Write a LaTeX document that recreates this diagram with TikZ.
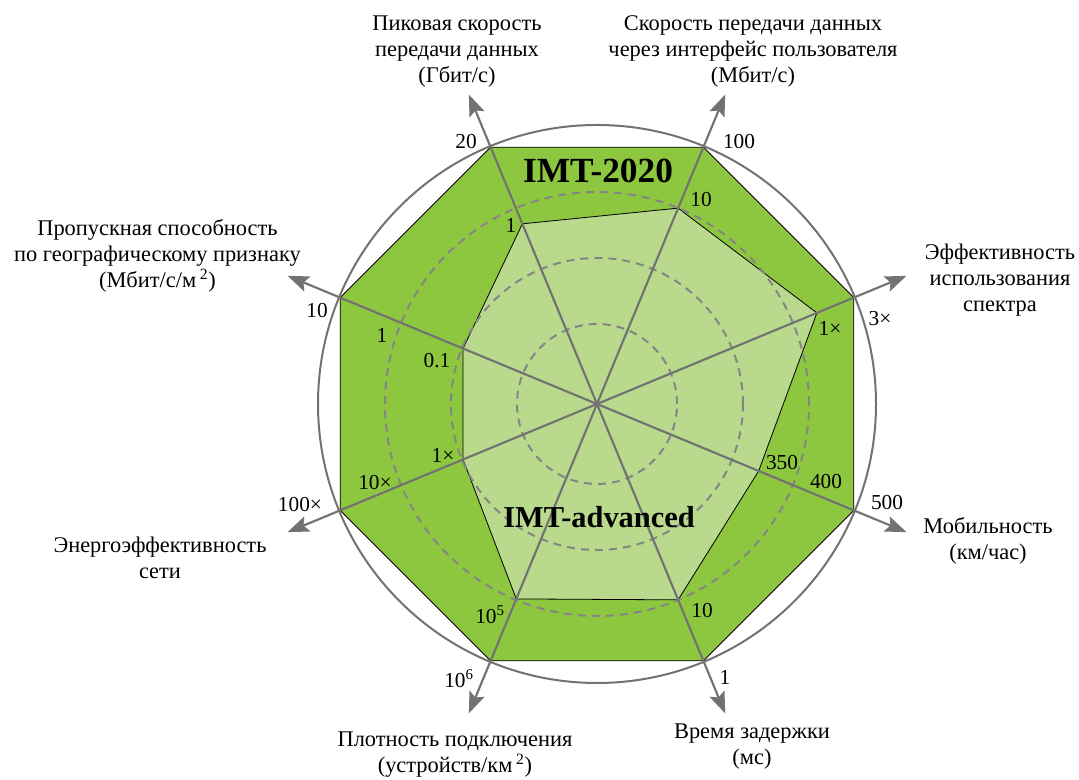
\documentclass[tikz,border=0pt]{standalone}
\usepackage{fontspec}
\setmainfont{Liberation Serif}
\usetikzlibrary{arrows.meta,calc}
\definecolor{darkgr}{HTML}{8DC63F}
\definecolor{lightgr}{HTML}{B9D98C}
\definecolor{axgray}{HTML}{727272}
\definecolor{dashgray}{HTML}{858585}
\begin{document}
\begin{tikzpicture}[x=0.75pt,y=0.75pt,
  octagon/.style={fill=darkgr,draw=black,line width=0.6pt},
  advpoly/.style={fill=lightgr,draw=black,line width=0.6pt},
  dashcirc/.style={draw=dashgray,line width=1.5pt,dash pattern=on 6pt off 4.5pt},
  outercirc/.style={draw=axgray,line width=1.5pt},
  axisline/.style={draw=axgray,line width=1.6pt,-{Stealth[length=16pt,width=12pt,inset=3pt]}},
  tick/.style={font=\fontsize{16}{19}\selectfont,anchor=base,inner sep=0pt},
  ttl/.style={font=\fontsize{16.8}{19.6}\selectfont,align=center,anchor=base,inner sep=0pt},
  imt/.style={anchor=base,inner sep=0pt}]
\useasboundingbox (0,0) rectangle (1079,780);
\coordinate (C) at (597,376);
\foreach \a [count=\i] in {112.5,67.5,22.5,-22.5,-67.5,-112.5,-157.5,157.5}{
  \coordinate (O\i) at ($(C)+(\a:278)$);
  \coordinate (T\i) at ($(C)+(\a:335)$);
}
\foreach \a/\r [count=\i] in {112.5/195,67.5/212,22.5/238,-22.5/175,-67.5/212,-112.5/211,-157.5/145,157.5/145}{
  \coordinate (L\i) at ($(C)+(\a:\r)$);
}
\draw[octagon] (O1) -- (O2) -- (O3) -- (O4) -- (O5) -- (O6) -- (O7) -- (O8) -- cycle;
\draw[advpoly] (L1) -- (L2) -- (L3) -- (L4) -- (L5) -- (L6) -- (L7) -- (L8) -- cycle;
\draw[dashcirc] (C) circle[radius=80];
\draw[dashcirc] (C) circle[radius=146];
\draw[dashcirc] (C) circle[radius=212];
\draw[outercirc] (C) circle[radius=279];
\foreach \i in {1,...,8}{\draw[axisline] (C) -- (T\i);}
% IMT labels
\node[imt,font=\fontsize{26.5}{30}\selectfont\bfseries] (imt2020) at (598,597) {IMT-2020};
\node[imt,font=\fontsize{22.8}{27}\selectfont\bfseries] (imtadv) at (599,252) {IMT-advanced};
% tick labels
\node[tick] (t20) at (466,631.5) {20};
\node[tick] (t100) at (739,631.5) {100};
\node[tick] (t10a) at (701,573.5) {10};
\node[tick] (t1a) at (511,547.5) {1};
\node[tick] (t1xa) at (830,444.5) {1×};
\node[tick] (t3x) at (880,454.5) {3×};
\node[tick] (t10b) at (317,462.5) {10};
\node[tick] (t1b) at (382,437.5) {1};
\node[tick] (t01) at (437,412.5) {0.1};
\node[tick] (t1xb) at (443,317.5) {1×};
\node[tick] (t10x) at (375,290.5) {10×};
\node[tick] (t100x) at (300,268.5) {100×};
\node[tick] (t350) at (782,310.5) {350};
\node[tick] (t400) at (826,291.5) {400};
\node[tick] (t500) at (887,270.5) {500};
\node[tick] (t10c) at (702,162.5) {10};
\node[tick] (t1c) at (725,95.5) {1};
\node[tick] (t105) at (490,156.5) {10\textsuperscript{5}};
\node[tick] (t106) at (459,92) {10\textsuperscript{6}};
% axis titles (anchor base = baseline of last line)
\node[ttl] (peak) at (457,697) {Пиковая скорость\\передачи данных\\(Гбит/с)};
\node[ttl] (user) at (753,697) {Скорость передачи данных\\через интерфейс пользователя\\(Мбит/с)};
\node[ttl] (area) at (157.5,492) {Пропускная способность\\по географическому признаку\\(Мбит/с/м\,\textsuperscript{2})};
\node[ttl] (spec) at (1000,468) {Эффективность\\использования\\спектра};
\node[ttl] (energy) at (160,201) {Энергоэффективность\\сети};
\node[ttl] (mob) at (988,220) {Мобильность\\(км/час)};
\node[ttl] (dens) at (455,7) {Плотность подключения\\(устройств/км\,\textsuperscript{2})};
\node[ttl] (lat) at (752,15) {Время задержки\\(мс)};
\end{tikzpicture}
\end{document}
